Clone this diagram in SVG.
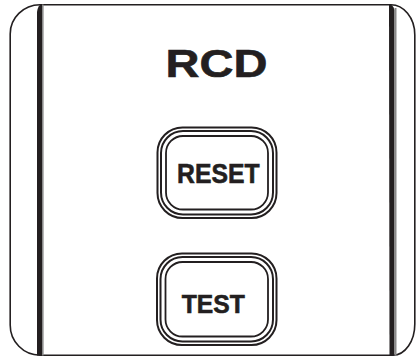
<svg xmlns="http://www.w3.org/2000/svg" width="417" height="357" viewBox="0 0 417 357">
<style>
.ln{fill:none;stroke:#231f20;}
.o{stroke-width:2;}
.i{stroke-width:1.8;}
.lbl{font-family:"Liberation Sans",Arial,sans-serif;font-weight:bold;fill:#231f20;stroke:#231f20;stroke-width:0.6;text-anchor:middle;}
</style>
<rect width="417" height="357" fill="#fff"/>
<g id="frame">
<path class="ln" stroke-width="1.6" d="M40,4.8 H390 A24 30 0 0 1 414.8,35 V324 A22 31 0 0 1 393,355.2 H40 A30 30 0 0 1 10.2,325 V34 A30 29 0 0 1 40,4.8 Z"/>
<path d="M37,12 Q38,5 41.5,4 L42,4 V355.5 H37 Z" fill="#231f20"/>
<rect x="42" y="4.5" width="1.6" height="351" fill="#8a8a8a"/>
<path d="M389,4 Q393,4.5 394.5,10 V355.5 H389.5 Z" fill="#231f20"/>
<rect x="394.5" y="8" width="2" height="347.5" fill="#8a8a8a"/>
</g>
<g id="title">
<text class="lbl" x="216.5" y="76.7" font-size="39.5" textLength="102" lengthAdjust="spacingAndGlyphs">RCD</text>
</g>
<g id="reset">
<rect class="ln o" x="157.5" y="127.5" width="119" height="90.5" rx="25" ry="25"/>
<rect class="ln o" x="161" y="131" width="112" height="83.5" rx="22" ry="22"/>
<rect class="ln i" x="166" y="136" width="102" height="73.5" rx="17" ry="17"/>
<text class="lbl" x="218.3" y="183.3" font-size="27.5" textLength="82.5" lengthAdjust="spacingAndGlyphs">RESET</text>
</g>
<g id="test">
<rect class="ln o" x="157" y="253.5" width="119.5" height="91.5" rx="25" ry="25"/>
<rect class="ln o" x="160.5" y="257" width="112.5" height="84.5" rx="22" ry="22"/>
<rect class="ln i" x="165.5" y="262" width="102.5" height="74.5" rx="17" ry="17"/>
<text class="lbl" x="213.3" y="312.7" font-size="26" textLength="63" lengthAdjust="spacingAndGlyphs">TEST</text>
</g>
</svg>
